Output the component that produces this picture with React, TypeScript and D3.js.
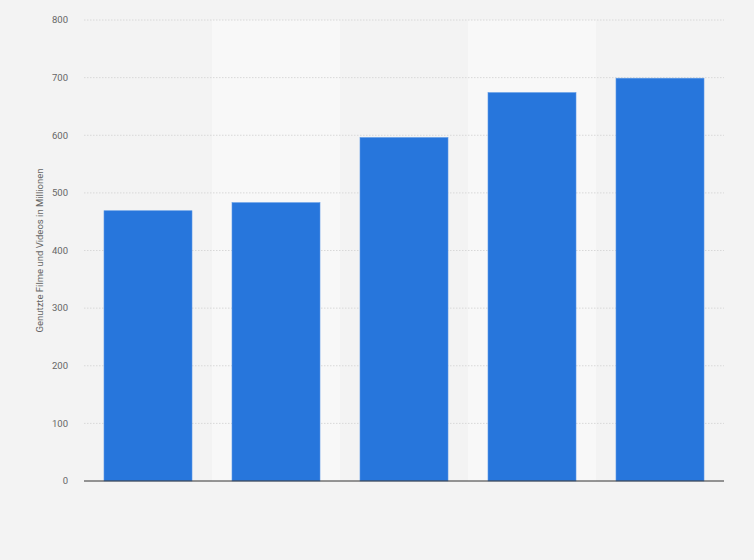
import React from 'react';
import * as d3 from 'd3';

const categories = ['1', '2', '3', '4', '5'];
const values = [469, 483, 596, 674, 699];
const yTicks = [0, 100, 200, 300, 400, 500, 600, 700, 800];
const yLabel = 'Genutzte Filme und Videos in Millionen';

const W = 754;
const H = 560;
const margin = { top: 20, right: 30, bottom: 79, left: 84 };

const App: React.FC = () => {
  const innerW = W - margin.left - margin.right;
  const innerH = H - margin.top - margin.bottom;

  const x = d3.scaleBand<string>()
    .domain(categories)
    .range([0, innerW])
    .paddingInner(0.3125)
    .paddingOuter(0.15625);

  const bands = d3.scaleBand<string>()
    .domain(categories)
    .range([0, innerW]);

  const y = d3.scaleLinear().domain([0, 800]).range([innerH, 0]);

  return (
    <svg width={W} height={H} style={{ position: 'fixed', top: 0, left: 0, display: 'block' }}>
      <rect width={W} height={H} fill="#f3f3f3" />
      <g transform={`translate(${margin.left},${margin.top})`}>
        {categories.map((c, i) => i % 2 === 1 && (
          <rect key={'s' + c} x={bands(c)} y={0} width={bands.bandwidth()} height={innerH} fill="#f8f8f8" />
        ))}
        {yTicks.map(t => (
          <g key={t}>
            {t > 0 && (
              <line x1={0} x2={innerW} y1={y(t)} y2={y(t)} stroke="#d8d8d8" strokeWidth={1} strokeDasharray="1.5,1.5" />
            )}
            <text x={-16} y={y(t)} dy="0.35em" textAnchor="end" fontFamily="Roboto, Arial, sans-serif" fontSize={9.5} fill="#666">{t}</text>
          </g>
        ))}
        {categories.map((c, i) => (
          <rect
            key={c}
            x={x(c)}
            y={y(values[i])}
            width={x.bandwidth()}
            height={innerH - y(values[i])}
            fill="#2776dc"
            stroke="#5a98e6"
            strokeWidth={0.6}
          />
        ))}
        <line x1={0} x2={innerW} y1={innerH} y2={innerH} stroke="#333" strokeWidth={1.2} />
      </g>
      <text
        transform={`translate(43,${margin.top + innerH / 2}) rotate(-90)`}
        textAnchor="middle"
        fontFamily="Roboto, Arial, sans-serif"
        fontSize={9.5}
        fill="#666"
      >
        {yLabel}
      </text>
    </svg>
  );
};

export default App;
